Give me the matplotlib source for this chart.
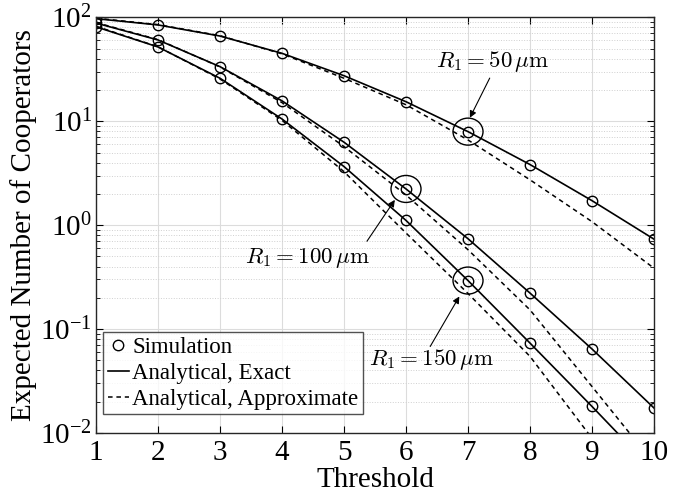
import matplotlib
matplotlib.use("Agg")
import matplotlib.pyplot as plt
import numpy as np
from matplotlib.patches import Ellipse
from matplotlib.transforms import ScaledTranslation
from matplotlib.lines import Line2D

plt.rcParams['font.family'] = ['Liberation Serif', 'DejaVu Serif']
plt.rcParams['mathtext.fontset'] = 'stix'

threshold = [1, 2, 3, 4, 5, 6, 7, 8, 9, 10]

# simulation / exact values for R1 = 50, 100, 150 um
exact_50 = [97, 84.4, 66, 45, 27.4, 15.4, 7.94, 3.83, 1.72, 0.733]
exact_100 = [88, 60.5, 33.5, 15.7, 6.28, 2.23, 0.74, 0.222, 0.0643, 0.0174]
exact_150 = [81, 51.8, 25.9, 10.5, 3.66, 1.11, 0.293, 0.0733, 0.018, 0.0043]

sim_50 = exact_50
sim_100 = exact_100
sim_150 = exact_150

# approximate analytical curves
approx_50 = [98, 85, 66.5, 44.5, 25.9, 14.4, 6.6, 2.73, 1.08, 0.385]
approx_100 = [89, 61, 33.3, 15.1, 5.7, 1.95, 0.58, 0.153, 0.028, 0.0051]
approx_150 = [82, 52, 25.5, 10.2, 3.27, 0.84, 0.22, 0.0546, 0.0089, 0.0014]

fig = plt.figure(figsize=(6.79, 5.01), dpi=100)
ax = fig.add_axes([0.1414, 0.1357, 0.8218, 0.8298])

for ex, ap, sm in [(exact_50, approx_50, sim_50),
                   (exact_100, approx_100, sim_100),
                   (exact_150, approx_150, sim_150)]:
    ax.plot(threshold, ex, '-', color='k', lw=1.2)
    ax.plot(threshold, ap, '--', color='k', lw=1.1, dashes=(3, 2.5))
    ax.plot(threshold, sm, 'o', color='k', mfc='none', ms=7.5, mew=1.0)

ax.set_yscale('log')
ax.set_xlim(1, 10)
ax.set_ylim(1e-2, 1e2)
ax.set_xticks(threshold)
ax.set_xlabel('Threshold', fontsize=21, labelpad=1)
ax.set_ylabel('Expected Number of Cooperators', fontsize=21, labelpad=2)
ax.tick_params(axis='both', which='both', direction='in', top=True, right=True, labelsize=21)
ax.tick_params(axis='both', which='major', length=5, width=0.8)
ax.tick_params(axis='y', which='minor', length=3, width=0.6)
ax.tick_params(axis='x', pad=5)
ax.tick_params(axis='y', pad=3)
ax.grid(True, which='major', color='#dcdcdc', lw=0.8, ls='-')
ax.grid(True, which='minor', axis='y', color='#d0d0d0', lw=0.7, ls=':')
ax.set_axisbelow(True)
for s in ax.spines.values():
    s.set_linewidth(1.0)
    s.set_color('#262626')


def ring(x, y):
    tr = fig.dpi_scale_trans + ScaledTranslation(x, y, ax.transData)
    ax.add_patch(Ellipse((0, 0), 0.30, 0.27, transform=tr, fill=False, ec='k', lw=1.0))


ring(7, exact_50[6])
ring(6, exact_100[5])
ring(7, exact_150[6])

arrow = dict(arrowstyle='-|>', color='k', lw=0.8, mutation_scale=10, shrinkA=0, shrinkB=0)
txt = dict(ha='center', va='center', fontsize=16.5, math_fontfamily='cm')

ax.text(7.40, 37.4, r'$R_1 = 50\,\mu\mathrm{m}$', **txt)
ax.annotate('', xy=(7.03, 10.8), xytext=(7.35, 26), arrowprops=arrow)
ax.text(4.41, 0.485, r'$R_1 = 100\,\mu\mathrm{m}$', **txt)
ax.annotate('', xy=(5.82, 1.75), xytext=(5.37, 0.70), arrowprops=arrow)
ax.text(6.41, 0.0507, r'$R_1 = 150\,\mu\mathrm{m}$', **txt)
ax.annotate('', xy=(6.86, 0.206), xytext=(6.39, 0.068), arrowprops=arrow)

handles = [Line2D([], [], ls='none', marker='o', mfc='none', color='k', ms=7.5),
           Line2D([], [], ls='-', color='k', lw=1.2),
           Line2D([], [], ls='--', color='k', lw=1.1, dashes=(3, 2.5))]
labels = ['Simulation', 'Analytical, Exact', 'Analytical, Approximate']
leg = ax.legend(handles, labels, loc='lower left', bbox_to_anchor=(0.0125, 0.045),
                fontsize=16.5, frameon=True, fancybox=False, borderpad=0.2,
                handlelength=0.95, handletextpad=0.12, labelspacing=0.22,
                borderaxespad=0)
leg.get_frame().set_edgecolor('#262626')
leg.get_frame().set_linewidth(1.0)

fig.savefig('out.png', dpi=100)
